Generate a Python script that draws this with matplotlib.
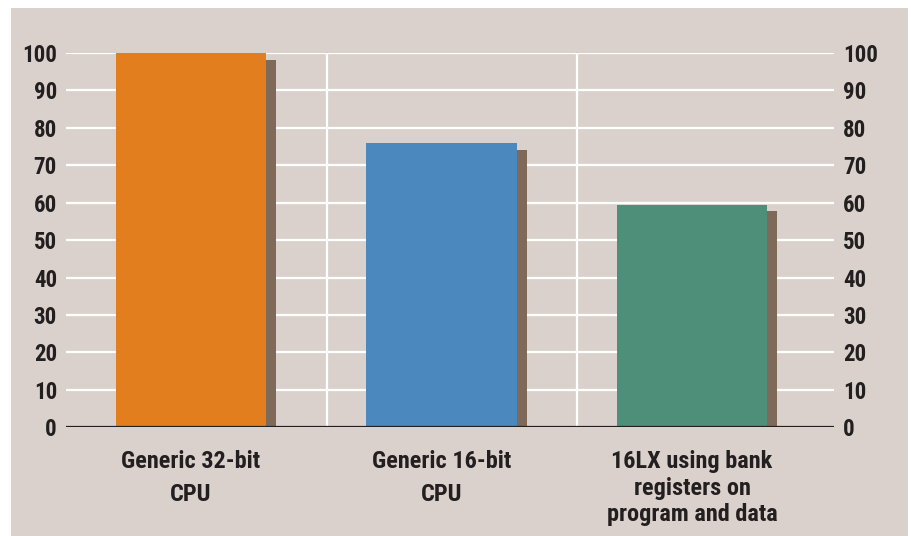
import matplotlib
matplotlib.use("Agg")
import matplotlib.pyplot as plt
from matplotlib.patches import Rectangle

categories = ["Generic 32-bit\nCPU", "Generic 16-bit\nCPU", "16LX using bank\nregisters on\nprogram and data"]
values = [100, 76, 59.5]
colors = ["#e37e1e", "#4a88bd", "#4d8f78"]
yticks = [0, 10, 20, 30, 40, 50, 60, 70, 80, 90, 100]

plt.rcParams['font.family'] = ['Roboto Condensed', 'Archivo Narrow', 'Barlow Condensed', 'DejaVu Sans']
plt.rcParams['font.weight'] = 'bold'

W, H = 911, 536
fig = plt.figure(figsize=(W / 100, H / 100), dpi=100)
fig.patch.set_facecolor("white")
fig.patches.append(Rectangle((11 / W, 0), (908 - 11) / W, (536 - 8) / H,
                             transform=fig.transFigure, facecolor="#dad1cc",
                             edgecolor="none", zorder=-10))

ax = fig.add_axes([66 / W, (536 - 427.3) / H, (834 - 66) / W, (427.3 - 53) / H])
ax.set_zorder(1)
ax.set_facecolor("none")

x = list(range(len(categories)))
bw = 0.6
shadow_dx = 0.04
shadow_dy = 1.8
ax.bar([xi + shadow_dx for xi in x], [v - shadow_dy for v in values], width=bw,
       color="#7f6a5a", zorder=2)
ax.bar(x, values, width=bw, color=colors, zorder=3)

ax.set_ylim(0, 100)
ax.set_xlim(-0.499, 2.567)
ax.set_yticks(yticks)
ax.set_yticklabels([str(t) for t in yticks])
for t in yticks[1:]:
    ax.axhline(t, color="white", lw=1.6, zorder=1)
for s in [0.543, 1.541]:
    ax.axvline(s, color="white", lw=1.6, zorder=1)
ax.axhline(0, color="#231f20", lw=1.6, zorder=4)

for sp in ax.spines.values():
    sp.set_visible(False)

ax.set_xticks(x)
labels = ax.set_xticklabels(categories, fontsize=17.5, color="#231f20")
for i, lab in enumerate(labels):
    lab.set_linespacing(1.56 if i < 2 else 1.2)
ax.tick_params(axis='x', length=0, pad=16.5)
ax.tick_params(axis='y', length=0, labelleft=True, labelright=True, pad=6.5,
               labelsize=16.5, labelcolor="#231f20")

fig.savefig("out.png", dpi=100, facecolor="white")
